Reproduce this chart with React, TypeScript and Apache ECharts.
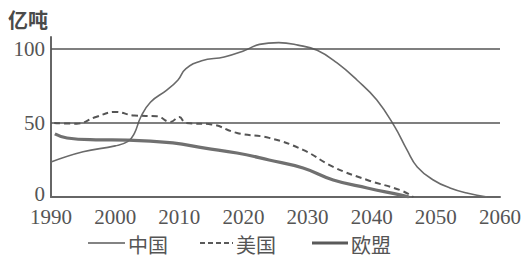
import React, { useEffect, useRef } from "react";
import * as echarts from "echarts";

const xTicks = [1990, 2000, 2010, 2020, 2030, 2040, 2050, 2060];
const yTicks = [0, 50, 100];
const refLines = [50, 100];
const unitLabel = "亿吨";
const seriesNames = ["中国", "美国", "欧盟"];

const chinaYears = [1990, 1995, 2000, 2002, 2003, 2004, 2005.5, 2008, 2009.8, 2011, 2013.5, 2017, 2020, 2022.5, 2025.5, 2028.5, 2031.5, 2034.6, 2037.7, 2040.8, 2043.6, 2045.5, 2047.1, 2049.6, 2052.2, 2055, 2058];
const chinaValues = [23.6, 30.5, 34.5, 37.5, 43, 54, 64, 72, 79, 86.5, 92, 94.5, 98.5, 103, 104.2, 102.5, 99, 90.5, 79, 65.5, 47.3, 31.8, 20.3, 11.5, 6.1, 2.5, 0];

const usaYears = [1990.5, 1994, 1997, 2000, 2003, 2006.5, 2008.6, 2010, 2011, 2015, 2019, 2024, 2029.3, 2034, 2039.3, 2044.4, 2046.5];
const usaValues = [50, 49.5, 54, 57.4, 55, 54.5, 50.7, 54, 50, 49, 43.2, 39.9, 31.8, 20.3, 11.5, 4.7, 0];

const euYears = [1990.6, 1992.5, 1997, 2002, 2009, 2014, 2019, 2024, 2029.3, 2034, 2039.3, 2044.4, 2045.8];
const euValues = [42.6, 39.8, 38.6, 38.4, 36.5, 33, 29.7, 25, 19.6, 11.5, 6.1, 1.4, 0];

const zip = (xs: number[], ys: number[]) => xs.map((x, i) => [x, ys[i]]);

export default function App() {
  const ref = useRef<HTMLDivElement>(null);
  useEffect(() => {
    if (!ref.current) return;
    const chart = echarts.init(ref.current, null, { renderer: "svg" });
    const serif = "Liberation Serif";
    const cjk = "Noto Sans CJK SC";
    const legendText = { fontFamily: cjk, fontSize: 20, fill: "#555", verticalAlign: "middle" };
    chart.setOption({
      animation: false,
      backgroundColor: "#ffffff",
      grid: { left: 51, right: 26, top: 37, bottom: 61, containLabel: false },
      graphic: [
        {
          type: "text",
          left: 8,
          top: 9,
          style: { text: unitLabel, fontFamily: cjk, fontSize: 20, fontWeight: "bold", fill: "#4a4a4a" },
        },
        { type: "line", shape: { x1: 88, y1: 243, x2: 125, y2: 243 }, style: { stroke: "#5a5a5a", lineWidth: 1.6 } },
        { type: "text", x: 128, y: 244, style: { ...legendText, text: seriesNames[0] } },
        { type: "line", shape: { x1: 200, y1: 243, x2: 233, y2: 243 }, style: { stroke: "#5a5a5a", lineWidth: 2, lineDash: [5, 3] } },
        { type: "text", x: 236, y: 244, style: { ...legendText, text: seriesNames[1] } },
        { type: "line", shape: { x1: 312, y1: 243, x2: 348, y2: 243 }, style: { stroke: "#5a5a5a", lineWidth: 3 } },
        { type: "text", x: 351, y: 244, style: { ...legendText, text: seriesNames[2] } },
      ],
      xAxis: {
        type: "value",
        min: xTicks[0],
        max: xTicks[xTicks.length - 1],
        interval: 10,
        axisLine: { show: true, lineStyle: { color: "#666", width: 2 } },
        axisTick: { show: false },
        splitLine: { show: false },
        axisLabel: {
          margin: 11,
          lineHeight: 18,
          fontFamily: serif,
          fontSize: 21,
          color: "#555",
          formatter: (v: number) => (xTicks.includes(v) ? String(v) : ""),
        },
      },
      yAxis: {
        type: "value",
        min: 0,
        max: 108,
        interval: 50,
        axisLine: { show: true, lineStyle: { color: "#666", width: 2 } },
        axisTick: { show: false },
        splitLine: { show: false },
        axisLabel: {
          margin: 6,
          lineHeight: 16,
          showMaxLabel: false,
          fontFamily: serif,
          fontSize: 21,
          color: "#555",
          formatter: (v: number) => (v === 0 ? "{z|0}" : yTicks.includes(v) ? String(v) : ""),
          rich: {
            z: { fontFamily: serif, fontSize: 21, color: "#555", lineHeight: 14, padding: [0, 0, 6, 0] },
          },
        },
      },
      series: [
        {
          name: seriesNames[0],
          type: "line",
          data: zip(chinaYears, chinaValues),
          smooth: 0.45,
          symbol: "none",
          lineStyle: { color: "#6a6a6a", width: 1.6 },
          itemStyle: { color: "#6a6a6a" },
          markLine: {
            silent: true,
            symbol: "none",
            label: { show: false },
            lineStyle: { color: "#555", width: 1.6, type: "solid" },
            data: refLines.map((v) => ({ yAxis: v })),
          },
          z: 3,
        },
        {
          name: seriesNames[1],
          type: "line",
          data: zip(usaYears, usaValues),
          smooth: 0.45,
          symbol: "none",
          lineStyle: { color: "#555", width: 2, type: [6, 4] },
          itemStyle: { color: "#555" },
          z: 2,
        },
        {
          name: seriesNames[2],
          type: "line",
          data: zip(euYears, euValues),
          smooth: 0.45,
          symbol: "none",
          lineStyle: { color: "#707070", width: 3.2 },
          itemStyle: { color: "#707070" },
          z: 2,
        },
      ],
    });
    return () => chart.dispose();
  }, []);
  return (
    <div
      ref={ref}
      style={{ position: "fixed", left: 0, top: 0, width: 526, height: 258, background: "#fff" }}
    />
  );
}
